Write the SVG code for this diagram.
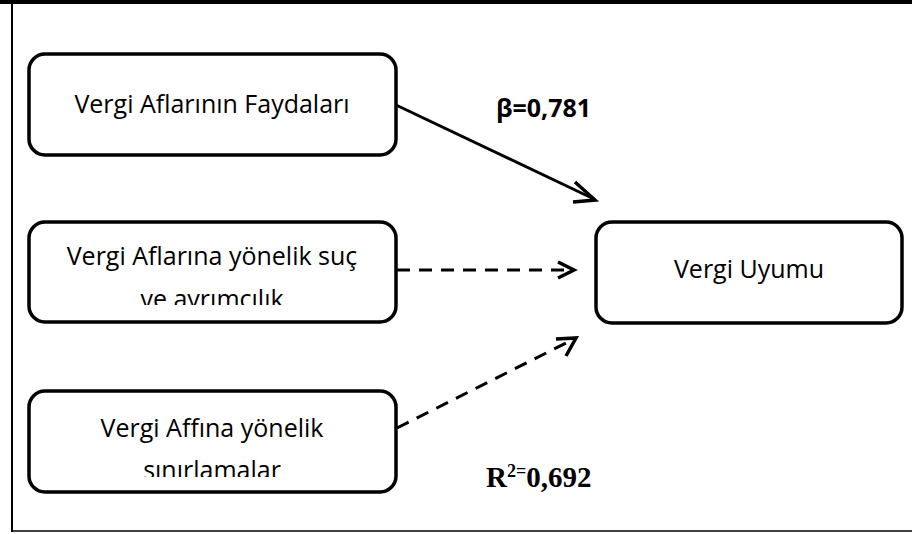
<svg xmlns="http://www.w3.org/2000/svg" width="912" height="534" viewBox="0 0 912 534">
<style>
.box{fill:#fff;stroke:#000;stroke-width:3.5}
.lbl{font-family:"Open Sans","Liberation Sans",sans-serif;font-size:25px;fill:#000;text-anchor:middle}
.conn{fill:none;stroke:#000;stroke-width:3}
.dash{stroke-dasharray:13,9}
.head{fill:none;stroke:#000;stroke-width:3.5;stroke-linecap:butt;stroke-linejoin:miter}
</style>
<defs>
<clipPath id="c2"><rect x="28" y="222" width="370" height="83"/></clipPath>
<clipPath id="c3"><rect x="28" y="391" width="370" height="86"/></clipPath>
</defs>
<rect x="0" y="0" width="912" height="534" fill="#fff"/>
<g id="frame">
<line x1="0" y1="2" x2="912" y2="2" stroke="#000" stroke-width="4"/>
<line x1="12" y1="0" x2="12" y2="532" stroke="#000" stroke-width="2"/>
<line x1="11" y1="531" x2="912" y2="531" stroke="#000" stroke-width="1.5"/>
</g>
<g id="n1">
<rect class="box" x="29" y="54" width="367" height="101" rx="16"/>
<text class="lbl" x="212" y="113">Vergi Aflarının Faydaları</text>
</g>
<g id="n2">
<rect class="box" x="29" y="222" width="367" height="100" rx="16"/>
<g clip-path="url(#c2)">
<text class="lbl" x="212" y="265">Vergi Aflarına yönelik suç</text>
<text class="lbl" x="212" y="308">ve ayrımcılık</text>
</g>
</g>
<g id="n3">
<rect class="box" x="29" y="391" width="367" height="101" rx="16"/>
<g clip-path="url(#c3)">
<text class="lbl" x="212" y="437">Vergi Affına yönelik</text>
<text class="lbl" x="212" y="479">sınırlamalar</text>
</g>
</g>
<g id="n4">
<rect class="box" x="596" y="222" width="306" height="101" rx="16"/>
<text class="lbl" x="749" y="278">Vergi Uyumu</text>
</g>
<g id="connectors">
<line class="conn" x1="396" y1="105" x2="594" y2="199"/>
<polyline class="head" points="575,182 595,200 573,202"/>
<line class="conn dash" x1="397" y1="270" x2="572" y2="270"/>
<polyline class="head" points="558,262 574,270 558,278"/>
<line class="conn dash" x1="397" y1="428" x2="574" y2="339"/>
<polyline class="head" points="556,339 576,338 566,356"/>
</g>
<g id="labels">
<text x="496" y="117" font-family="'Open Sans',sans-serif" font-weight="bold" font-size="25">β=0,781</text>
<text x="486" y="487" font-family="'Liberation Serif',serif" font-weight="bold" font-size="29">R<tspan font-size="18" dy="-10">2=</tspan><tspan dy="10">0,692</tspan></text>
</g>
</svg>
